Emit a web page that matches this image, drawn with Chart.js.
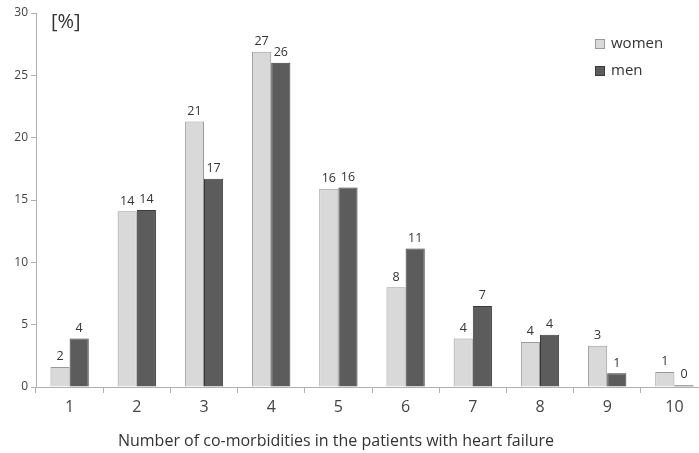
<!DOCTYPE html>
<html>
<head>
<meta charset="utf-8">
<script src="https://cdn.jsdelivr.net/npm/chart.js@4.4.0/dist/chart.umd.min.js"></script>
<style>
  html, body { margin: 0; padding: 0; background: #fff; overflow: hidden; }
  #wrap { position: relative; width: 710px; height: 453px; }
</style>
</head>
<body>
<div id="wrap"><canvas id="chartCanvas"></canvas></div>
<script>
// Chart data
const categories = ['1', '2', '3', '4', '5', '6', '7', '8', '9', '10'];
const womenValues = [1.6, 14.1, 21.3, 26.9, 15.9, 8.0, 3.9, 3.6, 3.3, 1.2];
const menValues = [3.9, 14.2, 16.7, 26.0, 16.0, 11.1, 6.5, 4.2, 1.1, 0.15];
const womenLabels = ['2', '14', '21', '27', '16', '8', '4', '4', '3', '1'];
const menLabels = ['4', '14', '17', '26', '16', '11', '7', '4', '1', '0'];
const yTicks = [0, 5, 10, 15, 20, 25, 30];
const xTitle = 'Number of co-morbidities in the patients with heart failure';

const FONT = "'Open Sans', sans-serif";

// Plugin: value labels above bars, legend, [%] unit and x title
const extrasPlugin = {
    id: 'extras',
    afterDatasetsDraw(chart) {
        const ctx = chart.ctx;
        const labelSets = [womenLabels, menLabels];
        ctx.save();
        ctx.font = '12.5px ' + FONT;
        ctx.fillStyle = '#333';
        ctx.textAlign = 'center';
        ctx.textBaseline = 'bottom';
        chart.data.datasets.forEach((ds, i) => {
            chart.getDatasetMeta(i).data.forEach((bar, j) => {
                ctx.fillText(labelSets[i][j], bar.x, bar.y - 4);
            });
        });

        // x axis title (sits a little left of the plot centre)
        ctx.font = '16px ' + FONT;
        ctx.fillStyle = '#333';
        ctx.textBaseline = 'middle';
        ctx.fillText(xTitle, 336, 441);

        // unit
        ctx.font = '20px ' + FONT;
        ctx.textAlign = 'left';
        ctx.fillText('[%]', 51, 22);

        // legend
        ctx.font = '15px ' + FONT;
        chart.data.datasets.forEach((ds, i) => {
            const y = 44 + i * 27;
            ctx.fillStyle = ds.backgroundColor;
            ctx.fillRect(595, y - 5, 10, 10);
            ctx.strokeStyle = ds.borderColor;
            ctx.lineWidth = 1;
            ctx.strokeRect(595.5, y - 4.5, 9, 9);
            ctx.fillStyle = '#333';
            ctx.fillText(ds.label, 611, y);
        });
        ctx.restore();
    }
};

const chart = new Chart(document.getElementById('chartCanvas'), {
    type: 'bar',
    data: {
        labels: categories,
        datasets: [
            {
                label: 'women',
                data: womenValues,
                backgroundColor: '#d9d9d9',
                borderColor: '#9a9a9a',
                borderWidth: 1,
            },
            {
                label: 'men',
                data: menValues,
                backgroundColor: '#5c5c5c',
                borderColor: '#3a3a3a',
                borderWidth: 1,
            },
        ],
    },
    options: {
        responsive: true,
        maintainAspectRatio: false,
        animation: false,
        datasets: { bar: { categoryPercentage: 0.57, barPercentage: 1.0 } },
        layout: { padding: { top: 13, right: 2, left: 0, bottom: 0 } },
        plugins: {
            legend: { display: false },
            tooltip: { enabled: false },
        },
        scales: {
            x: {
                afterFit: (axis) => { axis.height = 66; },
                grid: { offset: true, drawOnChartArea: false, drawTicks: true, tickLength: 6, color: '#b0b0b0' },
                border: { color: '#b0b0b0' },
                ticks: { color: '#444', font: { family: FONT, size: 16 }, padding: 5 },
            },
            y: {
                min: 0,
                max: 30,
                afterBuildTicks: (axis) => { axis.ticks = yTicks.map(v => ({ value: v })); },
                afterFit: (axis) => { axis.width = 36; },
                grid: { drawOnChartArea: false, drawTicks: true, tickLength: 5, color: '#b0b0b0' },
                border: { color: '#b0b0b0' },
                ticks: { color: '#444', font: { family: FONT, size: 12 }, padding: 3 },
            },
        },
    },
    plugins: [extrasPlugin],
});
</script>
</body>
</html>
